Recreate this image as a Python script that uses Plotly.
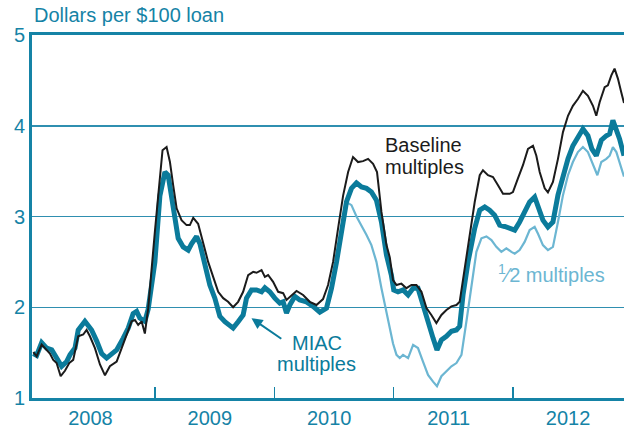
import plotly.graph_objects as go

# ---------------- data ----------------
baseline_x = [2007.982, 2008.010, 2008.052, 2008.094, 2008.121, 2008.149, 2008.177, 2008.211, 2008.247, 2008.283,
              2008.316, 2008.358, 2008.400, 2008.428, 2008.456, 2008.498, 2008.540, 2008.582, 2008.623, 2008.680,
              2008.721, 2008.763, 2008.805, 2008.833, 2008.860, 2008.889, 2008.916, 2008.944, 2008.972, 2008.986,
              2009.000, 2009.028, 2009.064, 2009.098, 2009.126, 2009.153, 2009.182, 2009.223, 2009.265, 2009.293,
              2009.321, 2009.362, 2009.404, 2009.446, 2009.488, 2009.530, 2009.572, 2009.613, 2009.655, 2009.697,
              2009.739, 2009.781, 2009.823, 2009.851, 2009.893, 2009.921, 2009.948, 2009.990, 2010.032, 2010.074,
              2010.102, 2010.144, 2010.186, 2010.241, 2010.297, 2010.353, 2010.408, 2010.450, 2010.492, 2010.534,
              2010.576, 2010.618, 2010.659, 2010.701, 2010.743, 2010.785, 2010.827, 2010.860, 2010.897, 2010.939,
              2010.967, 2010.994, 2011.023, 2011.064, 2011.106, 2011.148, 2011.190, 2011.232, 2011.274, 2011.315,
              2011.357, 2011.399, 2011.441, 2011.483, 2011.525, 2011.552, 2011.594, 2011.636, 2011.678, 2011.720,
              2011.747, 2011.789, 2011.831, 2011.873, 2011.915, 2011.971, 2011.998, 2012.040, 2012.082, 2012.124,
              2012.166, 2012.194, 2012.222, 2012.264, 2012.291, 2012.333, 2012.375, 2012.417, 2012.459, 2012.500,
              2012.542, 2012.584, 2012.626, 2012.668, 2012.696, 2012.724, 2012.766, 2012.793, 2012.822, 2012.849,
              2012.877, 2012.905, 2012.928]
baseline_y = [1.505, 1.46, 1.59, 1.53, 1.49, 1.42, 1.385, 1.24, 1.30, 1.385,
              1.42, 1.68, 1.70, 1.75, 1.68, 1.55, 1.37, 1.25, 1.35, 1.40,
              1.55, 1.68, 1.845, 1.86, 1.805, 1.845, 1.71, 1.99, 2.43, 2.685,
              2.835, 3.23, 3.73, 3.765, 3.60, 3.345, 3.09, 2.96, 2.905, 2.905,
              2.985, 2.92, 2.72, 2.50, 2.335, 2.17, 2.10, 2.06, 2.00, 2.06,
              2.17, 2.355, 2.39, 2.38, 2.41, 2.335, 2.355, 2.28, 2.17, 2.155,
              2.08, 2.135, 2.18, 2.135, 2.06, 2.025, 2.09, 2.245, 2.50, 2.87,
              3.23, 3.49, 3.655, 3.60, 3.61, 3.635, 3.58, 3.49, 3.05, 2.685,
              2.55, 2.30, 2.245, 2.26, 2.21, 2.245, 2.245, 2.17, 1.99, 1.915,
              1.825, 1.915, 1.97, 2.01, 2.025, 2.06, 2.43, 2.795, 3.16, 3.455,
              3.51, 3.455, 3.435, 3.345, 3.25, 3.25, 3.27, 3.42, 3.565, 3.745,
              3.78, 3.67, 3.49, 3.31, 3.265, 3.38, 3.635, 3.93, 4.11, 4.22,
              4.295, 4.385, 4.33, 4.22, 4.11, 4.26, 4.425, 4.445, 4.555, 4.63,
              4.52, 4.37, 4.25]

miac_x = [2007.982, 2008.010, 2008.052, 2008.094, 2008.136, 2008.177, 2008.219, 2008.261, 2008.289, 2008.331,
          2008.358, 2008.414, 2008.470, 2008.512, 2008.554, 2008.596, 2008.638, 2008.680, 2008.735, 2008.777,
          2008.818, 2008.847, 2008.874, 2008.916, 2008.944, 2008.972, 2009.000, 2009.042, 2009.084, 2009.111,
          2009.140, 2009.167, 2009.195, 2009.237, 2009.279, 2009.307, 2009.349, 2009.377, 2009.418, 2009.460,
          2009.502, 2009.544, 2009.586, 2009.628, 2009.655, 2009.697, 2009.739, 2009.767, 2009.809, 2009.851,
          2009.893, 2009.921, 2009.962, 2010.004, 2010.046, 2010.074, 2010.102, 2010.130, 2010.172, 2010.213,
          2010.269, 2010.325, 2010.381, 2010.437, 2010.479, 2010.521, 2010.562, 2010.604, 2010.646, 2010.688,
          2010.730, 2010.772, 2010.813, 2010.855, 2010.897, 2010.939, 2010.980, 2011.000, 2011.036, 2011.078,
          2011.120, 2011.162, 2011.203, 2011.245, 2011.287, 2011.329, 2011.362, 2011.399, 2011.441, 2011.483,
          2011.525, 2011.552, 2011.580, 2011.622, 2011.678, 2011.720, 2011.762, 2011.803, 2011.845, 2011.887,
          2011.929, 2011.971, 2012.013, 2012.054, 2012.096, 2012.138, 2012.180, 2012.208, 2012.249, 2012.291,
          2012.333, 2012.375, 2012.417, 2012.459, 2012.500, 2012.542, 2012.584, 2012.626, 2012.659, 2012.696,
          2012.738, 2012.780, 2012.808, 2012.835, 2012.864, 2012.891, 2012.928]
miac_y = [1.49, 1.47, 1.61, 1.55, 1.53, 1.44, 1.35, 1.40, 1.475, 1.55,
          1.75, 1.845, 1.75, 1.63, 1.49, 1.44, 1.49, 1.53, 1.66, 1.77,
          1.93, 1.955, 1.88, 1.845, 1.98, 2.21, 2.50, 3.23, 3.49, 3.455,
          3.23, 2.98, 2.76, 2.665, 2.63, 2.70, 2.78, 2.70, 2.465, 2.245,
          2.10, 1.90, 1.84, 1.805, 1.77, 1.84, 1.915, 2.10, 2.19, 2.19,
          2.17, 2.215, 2.17, 2.10, 2.045, 2.06, 1.935, 2.025, 2.12, 2.08,
          2.06, 2.01, 1.945, 1.99, 2.21, 2.50, 2.87, 3.16, 3.31, 3.37,
          3.325, 3.31, 3.27, 3.18, 2.94, 2.575, 2.355, 2.19, 2.17, 2.19,
          2.135, 2.21, 2.21, 2.025, 1.805, 1.66, 1.53, 1.64, 1.68, 1.735,
          1.75, 1.79, 2.135, 2.50, 2.87, 3.07, 3.105, 3.07, 3.015, 2.905,
          2.89, 2.87, 2.85, 2.94, 3.05, 3.16, 3.215, 3.125, 2.96, 2.885,
          2.94, 3.235, 3.455, 3.635, 3.78, 3.875, 3.965, 3.89, 3.745, 3.67,
          3.84, 3.89, 3.91, 4.06, 3.965, 3.855, 3.67]

# 1/2 multiples: identical to MIAC until mid-2010, then separates
half_split_year = 2010.604
half_tail_x = [2010.646, 2010.688, 2010.730, 2010.772, 2010.813, 2010.855, 2010.897, 2010.939, 2010.967, 2010.994,
               2011.023, 2011.050, 2011.078, 2011.120, 2011.162, 2011.203, 2011.245, 2011.287, 2011.329, 2011.362,
               2011.399, 2011.441, 2011.483, 2011.525, 2011.567, 2011.608, 2011.650, 2011.692, 2011.734, 2011.776,
               2011.818, 2011.859, 2011.901, 2011.943, 2011.985, 2012.013, 2012.054, 2012.096, 2012.138, 2012.180,
               2012.208, 2012.249, 2012.291, 2012.333, 2012.375, 2012.417, 2012.459, 2012.500, 2012.542, 2012.584,
               2012.626, 2012.668, 2012.705, 2012.738, 2012.780, 2012.808, 2012.835, 2012.864, 2012.891, 2012.928]
half_tail_y = [3.125, 3.00, 2.905, 2.795, 2.685, 2.50, 2.21, 1.95, 1.80, 1.60,
               1.475, 1.44, 1.475, 1.44, 1.585, 1.55, 1.40, 1.255, 1.18, 1.13,
               1.24, 1.295, 1.35, 1.385, 1.475, 1.84, 2.245, 2.61, 2.76, 2.78,
               2.74, 2.665, 2.61, 2.65, 2.61, 2.59, 2.63, 2.72, 2.85, 2.885,
               2.81, 2.685, 2.63, 2.665, 2.94, 3.235, 3.455, 3.60, 3.71, 3.765,
               3.71, 3.565, 3.455, 3.60, 3.635, 3.67, 3.765, 3.71, 3.60, 3.44]

year_labels = ["2008", "2009", "2010", "2011", "2012"]
year_label_pos = [2008.46, 2009.46, 2010.46, 2011.46, 2012.46]
year_bounds = [2009, 2010, 2011, 2012]
y_ticks = [1, 2, 3, 4, 5]

k = miac_x.index(half_split_year) + 1
half_x = miac_x[:k] + half_tail_x
half_y = miac_y[:k] + half_tail_y

# ---------------- styling ----------------
TEAL = "#1583a6"
GRID = "#2f8fb0"
MIAC_C = "#0b7b9b"
HALF_C = "#6cb6d2"
BLACK = "#1b1b1b"
FONT = "Liberation Sans, Arial, Helvetica, sans-serif"
FS = 20

fig = go.Figure()
fig.add_trace(go.Scatter(x=half_x, y=half_y, mode="lines",
                         line=dict(color=HALF_C, width=2.2), hoverinfo="skip"))
fig.add_trace(go.Scatter(x=miac_x, y=miac_y, mode="lines",
                         line=dict(color=MIAC_C, width=5), hoverinfo="skip"))
fig.add_trace(go.Scatter(x=baseline_x, y=baseline_y, mode="lines",
                         line=dict(color=BLACK, width=2), hoverinfo="skip"))

annos = [
    dict(text="Dollars per $100 loan", xref="paper", yref="paper", x=0, y=1.055,
         xanchor="left", yanchor="middle", showarrow=False, font=dict(color=TEAL, size=FS)),
    dict(text="Baseline", x=2010.908, y=3.784, xanchor="left", yanchor="middle",
         showarrow=False, font=dict(color=BLACK, size=FS)),
    dict(text="multiples", x=2010.908, y=3.55, xanchor="left", yanchor="middle",
         showarrow=False, font=dict(color=BLACK, size=FS)),
    dict(text="MIAC", x=2010.356, y=1.604, xanchor="center", yanchor="middle",
         showarrow=False, font=dict(color=MIAC_C, size=FS)),
    dict(text="multiples", x=2010.356, y=1.37, xanchor="center", yanchor="middle",
         showarrow=False, font=dict(color=MIAC_C, size=FS)),
    dict(text="<sup>1</sup>\u20442 multiples", x=2011.854, y=2.374, xanchor="left", yanchor="middle",
         showarrow=False, font=dict(color=HALF_C, size=FS)),
    dict(text="", x=2009.809, y=1.879, ax=2010.071, ay=1.641, axref="x", ayref="y",
         showarrow=True, arrowhead=2, arrowsize=1.1, arrowwidth=2, arrowcolor=MIAC_C),
]

fig.update_layout(
    width=624, height=429,
    margin=dict(l=32, r=0, t=35, b=28),
    paper_bgcolor="white", plot_bgcolor="white",
    showlegend=False,
    font=dict(family=FONT, size=FS, color=TEAL),
    annotations=annos,
    xaxis=dict(range=[2007.971, 2012.928], showgrid=False, zeroline=False,
               showline=True, linecolor=TEAL, linewidth=3, mirror=True,
               tickmode="array", tickvals=year_label_pos, ticktext=year_labels, ticks="",
               tickfont=dict(color=TEAL, size=FS),
               minor=dict(tickmode="array", tickvals=year_bounds, ticks="inside",
                          ticklen=11, tickwidth=1.5, tickcolor=TEAL, showgrid=False)),
    yaxis=dict(range=[1, 5], showgrid=True, gridcolor=GRID, gridwidth=1.5, zeroline=False,
               showline=True, linecolor=TEAL, linewidth=3,
               tickmode="array", tickvals=y_ticks, ticks="",
               tickfont=dict(color=TEAL, size=FS)),
)

fig.write_html("out.html",
               config={"displayModeBar": False, "staticPlot": True},
               post_script="document.body.style.margin='0';document.body.style.padding='0';"
                           "document.documentElement.style.overflow='hidden';")
